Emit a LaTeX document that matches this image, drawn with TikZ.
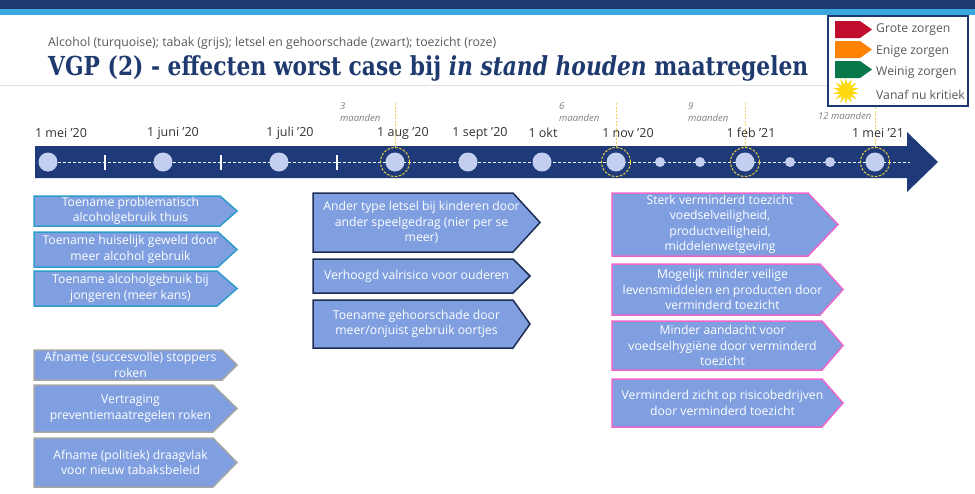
\documentclass[tikz,border=0pt]{standalone}
\usepackage{fontspec}
\setmainfont{Open Sans}
\newfontfamily\titlefont{DejaVu Serif}
\usetikzlibrary{shapes.geometric}
\definecolor{navy}{HTML}{1F3A78}
\definecolor{topnavy}{HTML}{1C3A70}
\definecolor{topblue}{HTML}{3AA8DF}
\definecolor{boxfill}{HTML}{7F9FE0}
\definecolor{alcline}{HTML}{2E9CC8}
\definecolor{tabline}{HTML}{A6A6A6}
\definecolor{letline}{HTML}{1E2D52}
\definecolor{toeline}{HTML}{EE66CC}
\definecolor{dotfill}{HTML}{C3CEF0}
\definecolor{ymark}{HTML}{E8CC3C}
\definecolor{txtgray}{HTML}{595959}
\definecolor{labgray}{HTML}{7F7F7F}
\definecolor{titleblue}{HTML}{1F3A6E}
\definecolor{lgred}{HTML}{C00D2E}
\definecolor{lgorange}{HTML}{FF8200}
\definecolor{lggreen}{HTML}{08784A}
\definecolor{lgyellow}{HTML}{FFD90F}
\newcommand{\abox}[8]{%
  \draw[#1] (#3,#4) -- (#5,#4) -- (#6,{(#4+#7)/2}) -- (#5,#7) -- (#3,#7) -- cycle;
  \node[boxtext] (#2) at ({(#3+#6)/2-5},{(#4+#7)/2}) {#8};
}
\begin{document}
\begin{tikzpicture}[x=1pt,y=-1pt,
  boxtext/.style={text=white, align=center, inner sep=0pt, font=\fontsize{12.2}{15.5}\selectfont},
  alcbox/.style={fill=boxfill, draw=alcline, line width=1.5pt},
  tabbox/.style={fill=boxfill, draw=tabline, line width=1.5pt},
  letbox/.style={fill=boxfill, draw=letline, line width=1.5pt},
  toebox/.style={fill=boxfill, draw=toeline, line width=1.5pt},
  datelab/.style={text=black!80, inner sep=0pt, font=\fontsize{12.5}{15}\selectfont},
  mlab/.style={text=labgray, inner sep=0pt, align=left, anchor=north west, font=\fontsize{9.5}{12.5}\selectfont\itshape},
  bigdot/.style={circle, fill=dotfill, minimum size=19pt, inner sep=0pt},
  smalldot/.style={circle, fill=dotfill, minimum size=10pt, inner sep=0pt},
  ring/.style={circle, draw=ymark, dashed, dash pattern=on 2.5pt off 1.5pt, line width=1pt, minimum size=29pt, inner sep=0pt},
  yline/.style={draw=ymark!80, dashed, dash pattern=on 2pt off 1.5pt, line width=0.8pt},
  legtext/.style={text=txtgray, anchor=west, inner sep=0pt, font=\fontsize{12.2}{14}\selectfont},
]
\useasboundingbox (0,0) rectangle (975,493);
\fill[white] (0,0) rectangle (975,493);
% top bands
\fill[topnavy] (0,0) rectangle (975,9);
\fill[topblue] (0,9) rectangle (975,15);
% title area
\draw[black!12, line width=1pt] (0,85) -- (828,85);
\node[anchor=base west, inner sep=0pt, text=txtgray] (subtitle) at (48,46)
  {\resizebox{448pt}{!}{Alcohol (turquoise); tabak (grijs); letsel en gehoorschade (zwart); toezicht (roze)}};
\node[anchor=base west, inner sep=0pt, text=titleblue] (title) at (48,75)
  {\scalebox{1}[1.2]{\resizebox{760pt}{!}{\titlefont\bfseries VGP (2) - effecten worst case bij \textit{in stand houden} maatregelen}}};

% legend
\draw[topnavy, line width=1.3pt, fill=white] (828,16) rectangle (968,106);
\fill[lgred] (835,21) -- (860,21) -- (872,29.5) -- (860,38) -- (835,38) -- cycle;
\fill[lgorange] (835,41) -- (860,41) -- (872,49.5) -- (860,58) -- (835,58) -- cycle;
\fill[lggreen] (835,61) -- (860,61) -- (872,69.5) -- (860,78) -- (835,78) -- cycle;
\node[star, star points=14, star point ratio=2, fill=lgyellow, minimum size=27pt, inner sep=0pt] (sun) at (846,91) {};
\node[legtext] (lg1) at (876,30) {Grote zorgen};
\node[legtext] (lg2) at (876,51) {Enige zorgen};
\node[legtext] (lg3) at (876,72) {Weinig zorgen};
\node[legtext] (lg4) at (876,95) {Vanaf nu kritiek};

% timeline band
\fill[navy] (35,146) -- (907,146) -- (907,132) -- (938,162) -- (907,192) -- (907,178) -- (35,178) -- cycle;
\coordinate (tlS) at (48,162);
\coordinate (tlE) at (910,162);
\draw[white, dashed, dash pattern=on 3pt off 2pt, line width=0.8pt] (tlS) -- (tlE);
\foreach \x in {105,221,337} \draw[white, line width=1.2pt] (\x,155) -- (\x,170);

% yellow markers
\foreach \x/\t in {395/103,616/103,745/103,875/107} \draw[yline] (\x,\t) -- (\x,148);
\foreach \x/\n in {395/r1,616/r2,745/r3,875/r4} \node[ring] (\n) at (\x,162) {};

% dots
\foreach \x/\n in {48/d1,163/d2,279/d3,395/d4,468/d5,542/d6,616/d7,745/d8,875/d9}
  \node[bigdot] (\n) at (\x,162) {};
\foreach \x/\n in {660/s1,700/s2,790/s3,830/s4}
  \node[smalldot] (\n) at (\x,162) {};

% dates
\node[datelab] (m1) at (61,133) {1 mei ’20};
\node[datelab] (m2) at (173,133) {1 juni ’20};
\node[datelab] (m3) at (290,133) {1 juli ’20};
\node[datelab] (m4) at (403,133) {1 aug ’20};
\node[datelab] (m5) at (480,133) {1 sept ’20};
\node[datelab] (m6) at (543,133) {1 okt};
\node[datelab] (m7) at (628,133) {1 nov ’20};
\node[datelab] (m8) at (751,133) {1 feb ’21};
\node[datelab] (m9) at (878,133) {1 mei ’21};

% month labels
\node[mlab] (q3) at (340,102) {3\\maanden};
\node[mlab] (q6) at (559,102) {6\\maanden};
\node[mlab] (q9) at (688,102) {9\\maanden};
\node[mlab] (q12) at (818,112) {12 maanden};

% alcohol
\abox{alcbox}{a1}{34}{196}{220}{237}{226}{Toename problematisch\\alcoholgebruik thuis}
\abox{alcbox}{a2}{34}{232}{218}{237}{267}{Toename huiselijk geweld door\\meer alcohol gebruik}
\abox{alcbox}{a3}{34}{271}{217}{237}{306}{Toename alcoholgebruik bij\\jongeren (meer kans)}
% tabak
\abox{tabbox}{t1}{34}{350}{222}{237}{380}{Afname (succesvolle) stoppers\\roken}
\abox{tabbox}{t2}{34}{385}{213}{237}{432}{Vertraging\\preventiemaatregelen roken}
\abox{tabbox}{t3}{34}{438}{213}{237}{487}{Afname (politiek) draagvlak\\voor nieuw tabaksbeleid}
% letsel
\abox{letbox}{l1}{313}{193}{513}{540}{252}{Ander type letsel bij kinderen door\\ander speelgedrag (nier per se\\meer)}
\abox{letbox}{l2}{313}{259}{513}{530}{293}{Verhoogd valrisico voor ouderen}
\abox{letbox}{l3}{313}{300}{513}{530}{348}{Toename gehoorschade door\\meer/onjuist gebruik oortjes}
% toezicht
\abox{toebox}{z1}{612}{193}{808}{838}{256}{Sterk verminderd toezicht\\voedselveiligheid,\\productveiligheid,\\middelenwetgeving}
\abox{toebox}{z2}{612}{264}{820}{843}{315}{Mogelijk minder veilige\\levensmiddelen en producten door\\verminderd toezicht}
\abox{toebox}{z3}{612}{321}{822}{843}{370}{Minder aandacht voor\\voedselhygiëne door verminderd\\toezicht}
\abox{toebox}{z4}{612}{379}{822}{843}{427}{Verminderd zicht op risicobedrijven\\door verminderd toezicht}
\end{tikzpicture}
\end{document}
